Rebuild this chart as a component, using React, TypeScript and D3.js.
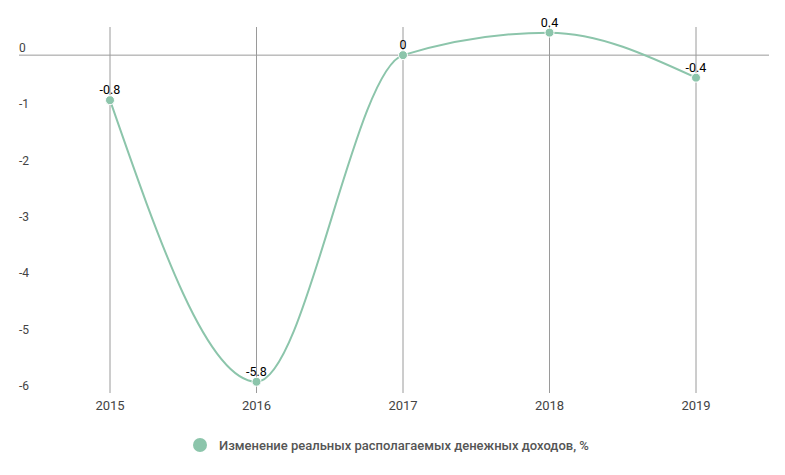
import React, { useRef, useEffect } from "react";
import * as d3 from "d3";

const years = ["2015", "2016", "2017", "2018", "2019"];
const values = [-0.8, -5.8, 0, 0.4, -0.4];
const yTicks = [0, -1, -2, -3, -4, -5, -6];
const seriesName = "Изменение реальных располагаемых денежных доходов, %";

const color = "#8cc5ab";
const font = "Roboto, sans-serif";

const App = () => {
    const ref = useRef<SVGSVGElement | null>(null);

    useEffect(() => {
        const svg = d3.select(ref.current);
        svg.selectAll("*").remove();

        const x = d3.scalePoint<string>().domain(years).range([110, 696]);
        const y = d3.scaleLinear().domain([-6, 0.5]).range([393, 27]);

        // vertical grid lines
        svg.append("g")
            .selectAll("line")
            .data(years)
            .enter()
            .append("line")
            .attr("x1", (d) => x(d)!)
            .attr("x2", (d) => x(d)!)
            .attr("y1", y(0.5))
            .attr("y2", y(-6))
            .attr("stroke", "#9a9a9a")
            .attr("stroke-width", 1);

        // zero line
        svg.append("line")
            .attr("x1", 19)
            .attr("x2", 769)
            .attr("y1", y(0))
            .attr("y2", y(0))
            .attr("stroke", "#9a9a9a")
            .attr("stroke-width", 1);

        // y tick labels
        svg.append("g")
            .selectAll("text")
            .data(yTicks)
            .enter()
            .append("text")
            .attr("x", 19)
            .attr("y", (d) => y(d) - 3)
            .attr("font-family", font)
            .attr("font-size", 12)
            .attr("fill", "#444")
            .text((d) => String(d));

        // x tick labels
        svg.append("g")
            .selectAll("text")
            .data(years)
            .enter()
            .append("text")
            .attr("x", (d) => x(d)!)
            .attr("y", 410)
            .attr("text-anchor", "middle")
            .attr("font-family", font)
            .attr("font-size", 13)
            .attr("fill", "#444")
            .text((d) => d);

        const line = d3
            .line<number>()
            .x((_, i) => x(years[i])!)
            .y((d) => y(d))
            .curve(d3.curveMonotoneX);

        svg.append("path")
            .datum(values)
            .attr("fill", "none")
            .attr("stroke", color)
            .attr("stroke-width", 2)
            .attr("d", line as any);

        svg.append("g")
            .selectAll("circle")
            .data(values)
            .enter()
            .append("circle")
            .attr("cx", (_, i) => x(years[i])!)
            .attr("cy", (d) => y(d))
            .attr("r", 4.5)
            .attr("fill", color)
            .attr("stroke", "#fff")
            .attr("stroke-width", 1);

        svg.append("g")
            .selectAll("text")
            .data(values)
            .enter()
            .append("text")
            .attr("x", (_, i) => x(years[i])!)
            .attr("y", (d) => y(d) - 6)
            .attr("text-anchor", "middle")
            .attr("font-family", font)
            .attr("font-size", 12.5)
            .attr("fill", "#000")
            .text((d) => String(d));

        // legend
        const lg = svg.append("g");
        lg.append("circle")
            .attr("cx", 200)
            .attr("cy", 445)
            .attr("r", 7)
            .attr("fill", color);
        lg.append("text")
            .attr("x", 219)
            .attr("y", 449.5)
            .attr("font-family", font)
            .attr("font-size", 13)
            .attr("font-weight", 500)
            .attr("fill", "#555")
            .text(seriesName);
    }, []);

    return (
        <svg
            ref={ref}
            width={785}
            height={475}
            style={{ position: "absolute", left: 0, top: 0 }}
        />
    );
};

export default App;
